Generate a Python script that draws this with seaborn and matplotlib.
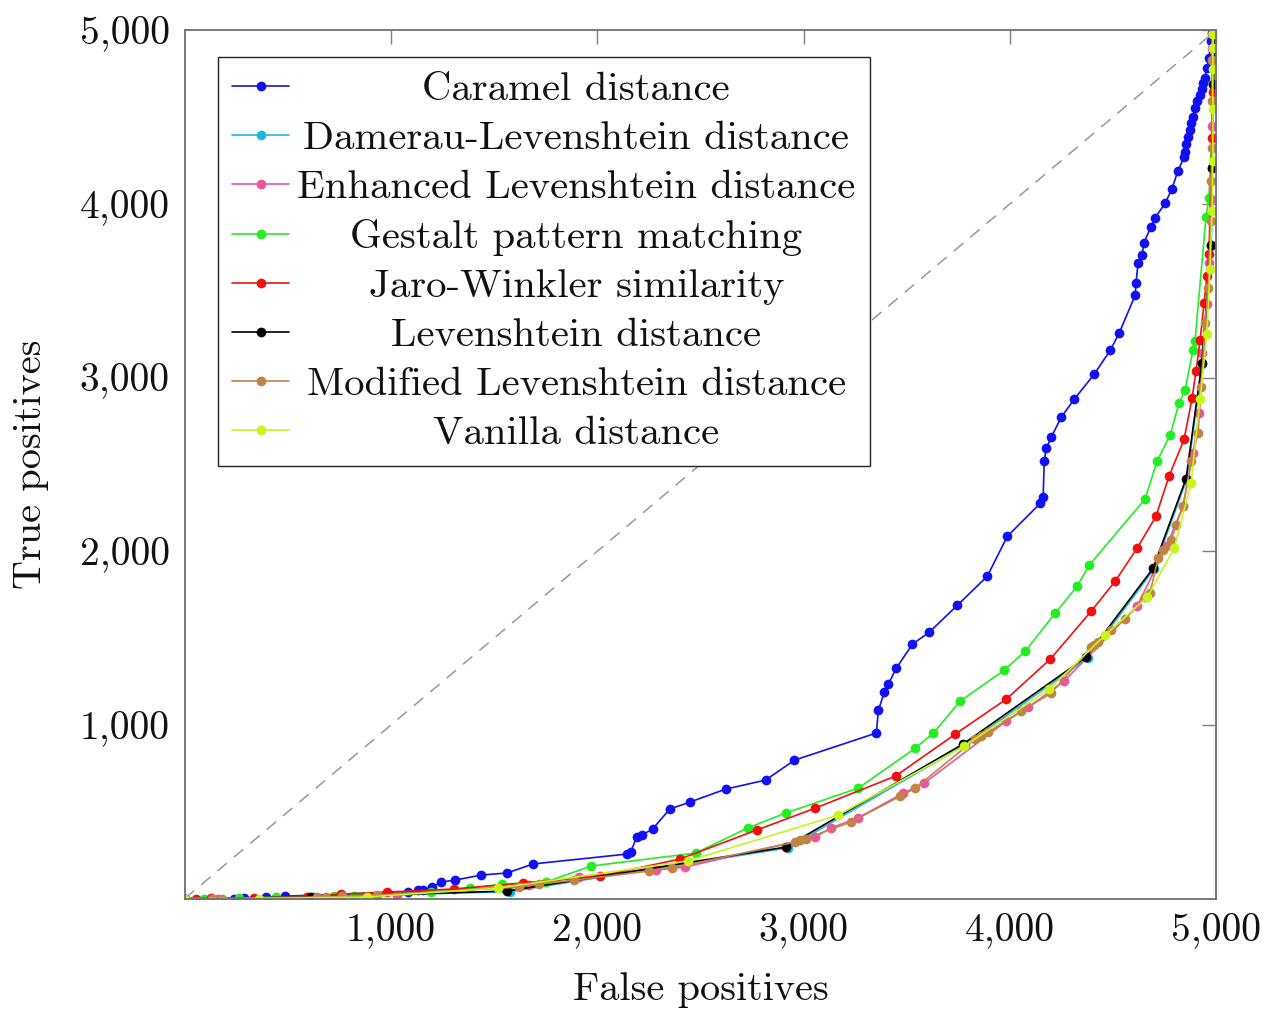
import matplotlib
matplotlib.use('Agg')
import matplotlib.pyplot as plt
import seaborn as sns

# ROC-like curves: false positives vs true positives for string similarity measures
caramel_x = [0, 240, 288, 395, 487, 1082, 1131, 1155, 1199, 1242, 1310, 1436, 1562, 1688,
             2143, 2162, 2191, 2215, 2268, 2351, 2448, 2622, 2816, 2956, 3353, 3363, 3392,
             3411, 3450, 3528, 3610, 3746, 3891, 3988, 4148, 4162, 4167, 4177, 4201, 4249,
             4312, 4409, 4487, 4530, 4608, 4612, 4622, 4642, 4651, 4685, 4705, 4753, 4787,
             4816, 4845, 4850, 4855, 4864, 4874, 4879, 4889, 4898, 4908, 4923, 4932, 4937,
             4947, 4956, 4966, 4976, 4981, 5000]
caramel_y = [0, 0, 3, 9, 14, 37, 49, 49, 66, 95, 106, 135, 147, 199,
             256, 268, 354, 365, 400, 515, 555, 630, 682, 797, 953, 1085, 1188,
             1234, 1327, 1465, 1534, 1689, 1856, 2086, 2276, 2311, 2518, 2593, 2656, 2771,
             2875, 3019, 3157, 3255, 3474, 3543, 3658, 3709, 3778, 3870, 3922, 4003, 4089,
             4193, 4268, 4302, 4343, 4388, 4429, 4464, 4504, 4555, 4596, 4630, 4665, 4699,
             4728, 4786, 4843, 4941, 4987, 5000]

damerau_x = [0, 625, 1575, 2925, 3785, 4378, 4700, 4858, 4934, 4977, 4982, 4986, 5000]
damerau_y = [0, 8, 40, 292, 886, 1385, 1898, 2414, 3080, 3760, 4205, 4688, 5000]

enhanced_x = [0, 160, 600, 1029, 1668, 1910, 2283, 2424, 3058, 3131, 3262, 3484, 3586,
              3983, 4090, 4264, 4617, 4760, 4840, 4889, 4918, 4932, 4956, 4966, 4976,
              4981, 4981, 5000]
enhanced_y = [0, 0, 6, 20, 78, 124, 164, 181, 354, 406, 463, 607, 665,
              1022, 1102, 1252, 1683, 2030, 2259, 2564, 2794, 3140, 3427, 3658, 4030,
              4450, 4900, 5000]

gestalt_x = [0, 94, 264, 443, 724, 821, 1194, 1383, 1538, 1751, 1969, 2477, 2729, 2913,
             3266, 3542, 3630, 3760, 3973, 4075, 4220, 4327, 4385, 4656, 4714, 4777, 4821,
             4850, 4889, 4898, 4952, 4966, 5000]
gestalt_y = [0, 0, 3, 9, 14, 14, 37, 60, 83, 95, 187, 262, 406, 492,
             636, 866, 953, 1137, 1315, 1424, 1643, 1799, 1920, 2300, 2518, 2668, 2852,
             2927, 3162, 3209, 3928, 4037, 5000]

jaro_x = [0, 56, 128, 337, 593, 758, 981, 1305, 1639, 2012, 2400, 2772, 3058, 3446, 3736,
          3983, 4196, 4395, 4511, 4617, 4709, 4772, 4845, 4884, 4903, 4923, 4942, 4956,
          4966, 4981, 4985, 5000]
jaro_y = [0, 0, 3, 3, 9, 26, 37, 55, 89, 129, 227, 394, 521, 705, 947,
          1148, 1378, 1655, 1827, 2017, 2201, 2432, 2644, 2881, 3036, 3215, 3428, 3583,
          3715, 4383, 4648, 5000]

leven_x = [0, 613, 1562, 2913, 3775, 4370, 4695, 4855, 4932, 4976, 4981, 4985, 5000]
leven_y = [0, 9, 43, 296, 891, 1390, 1902, 2419, 3087, 3766, 4209, 4691, 5000]

modified_x = [0, 133, 182, 642, 685, 763, 932, 1620, 1717, 1886, 2249, 2361, 2961, 2985,
              3010, 3228, 3470, 3542, 3833, 3860, 3896, 4056, 4201, 4395, 4410, 4430, 4492,
              4559, 4656, 4680, 4719, 4743, 4782, 4806, 4840, 4880, 4913, 4928, 4947, 4961,
              4976, 4976, 4981, 4981, 4981, 4981, 5000]
modified_y = [0, 0, 0, 9, 9, 14, 20, 66, 83, 106, 158, 176, 325, 335,
              345, 440, 590, 636, 918, 935, 958, 1079, 1183, 1447, 1460, 1480, 1545,
              1609, 1735, 1760, 1960, 2006, 2063, 2150, 2259, 2520, 2679, 2944, 3312, 3519,
              3905, 4135, 4325, 4596, 4827, 4982, 5000]

vanilla_x = [0, 361, 884, 1518, 2438, 3169, 3780, 4191, 4462, 4666, 4797, 4879, 4923, 4956,
             4971, 4981, 4985, 4985, 4985, 4985, 4985, 5000]
vanilla_y = [0, 0, 9, 60, 216, 481, 878, 1206, 1517, 1735, 2017, 2391, 2875, 3254,
             3628, 3957, 4250, 4550, 4780, 4900, 4981, 5000]

labels = ['Caramel distance', 'Damerau-Levenshtein distance', 'Enhanced Levenshtein distance',
          'Gestalt pattern matching', 'Jaro-Winkler similarity', 'Levenshtein distance',
          'Modified Levenshtein distance', 'Vanilla distance']
colors = ['#1010f0', '#20b8e0', '#ea559e', '#22ee22', '#f01010', '#000000', '#c08448', '#c8f51a']
series = [(caramel_x, caramel_y), (damerau_x, damerau_y), (enhanced_x, enhanced_y),
          (gestalt_x, gestalt_y), (jaro_x, jaro_y), (leven_x, leven_y),
          (modified_x, modified_y), (vanilla_x, vanilla_y)]
ticks = [1000, 2000, 3000, 4000, 5000]
tick_labels = ['1,000', '2,000', '3,000', '4,000', '5,000']

sns.set_theme(style='white')
plt.rcParams['font.family'] = ['cmr10', 'DejaVu Serif']
plt.rcParams['axes.formatter.use_mathtext'] = True

fig = plt.figure(figsize=(12.66, 10.13), dpi=100)
ax = fig.add_axes([0.146, 0.113, 0.8145, 0.857])

ax.plot([0, 5000], [0, 5000], color='#999999', lw=1.1, dashes=(8, 6), zorder=1)

for (xs, ys), lab, col in zip(series, labels, colors):
    sns.lineplot(x=xs, y=ys, ax=ax, color=col, label=lab, sort=False, estimator=None,
                 marker='o', markersize=7, markeredgewidth=0, linewidth=1.2)

ax.set_xlim(0, 5000)
ax.set_ylim(0, 5000)
ax.set_xticks(ticks)
ax.set_xticklabels(tick_labels)
ax.set_yticks(ticks)
ax.set_yticklabels(tick_labels)
ax.tick_params(direction='in', length=10, width=1, color='#808080', labelsize=28.5,
               top=True, right=True, pad=11, labelcolor='#111111')
for sp in ax.spines.values():
    sp.set_color('#707070')
    sp.set_linewidth(1.3)
ax.set_xlabel('False positives', fontsize=29, labelpad=16, color='#111111')
ax.set_ylabel('True positives', fontsize=29, labelpad=22, color='#111111')

leg = ax.legend(loc='upper left', bbox_to_anchor=(0.032, 0.969), borderaxespad=0,
                fontsize=29.3, frameon=True, fancybox=False, edgecolor='#222222',
                framealpha=1, handlelength=1.4, handletextpad=0.2, labelspacing=0.31,
                borderpad=0.35, numpoints=1)
leg.get_frame().set_linewidth(1.0)
for t in leg.get_texts():
    t.set_color('#111111')

# center legend entries like pgfplots does
fig.canvas.draw()
r = fig.canvas.get_renderer()
widths = [t.get_window_extent(r).width for t in leg.get_texts()]
wmax = max(widths)
for t, w in zip(leg.get_texts(), widths):
    t.set_position(((wmax - w) / 2, 0))

fig.savefig('out.png', dpi=100)
